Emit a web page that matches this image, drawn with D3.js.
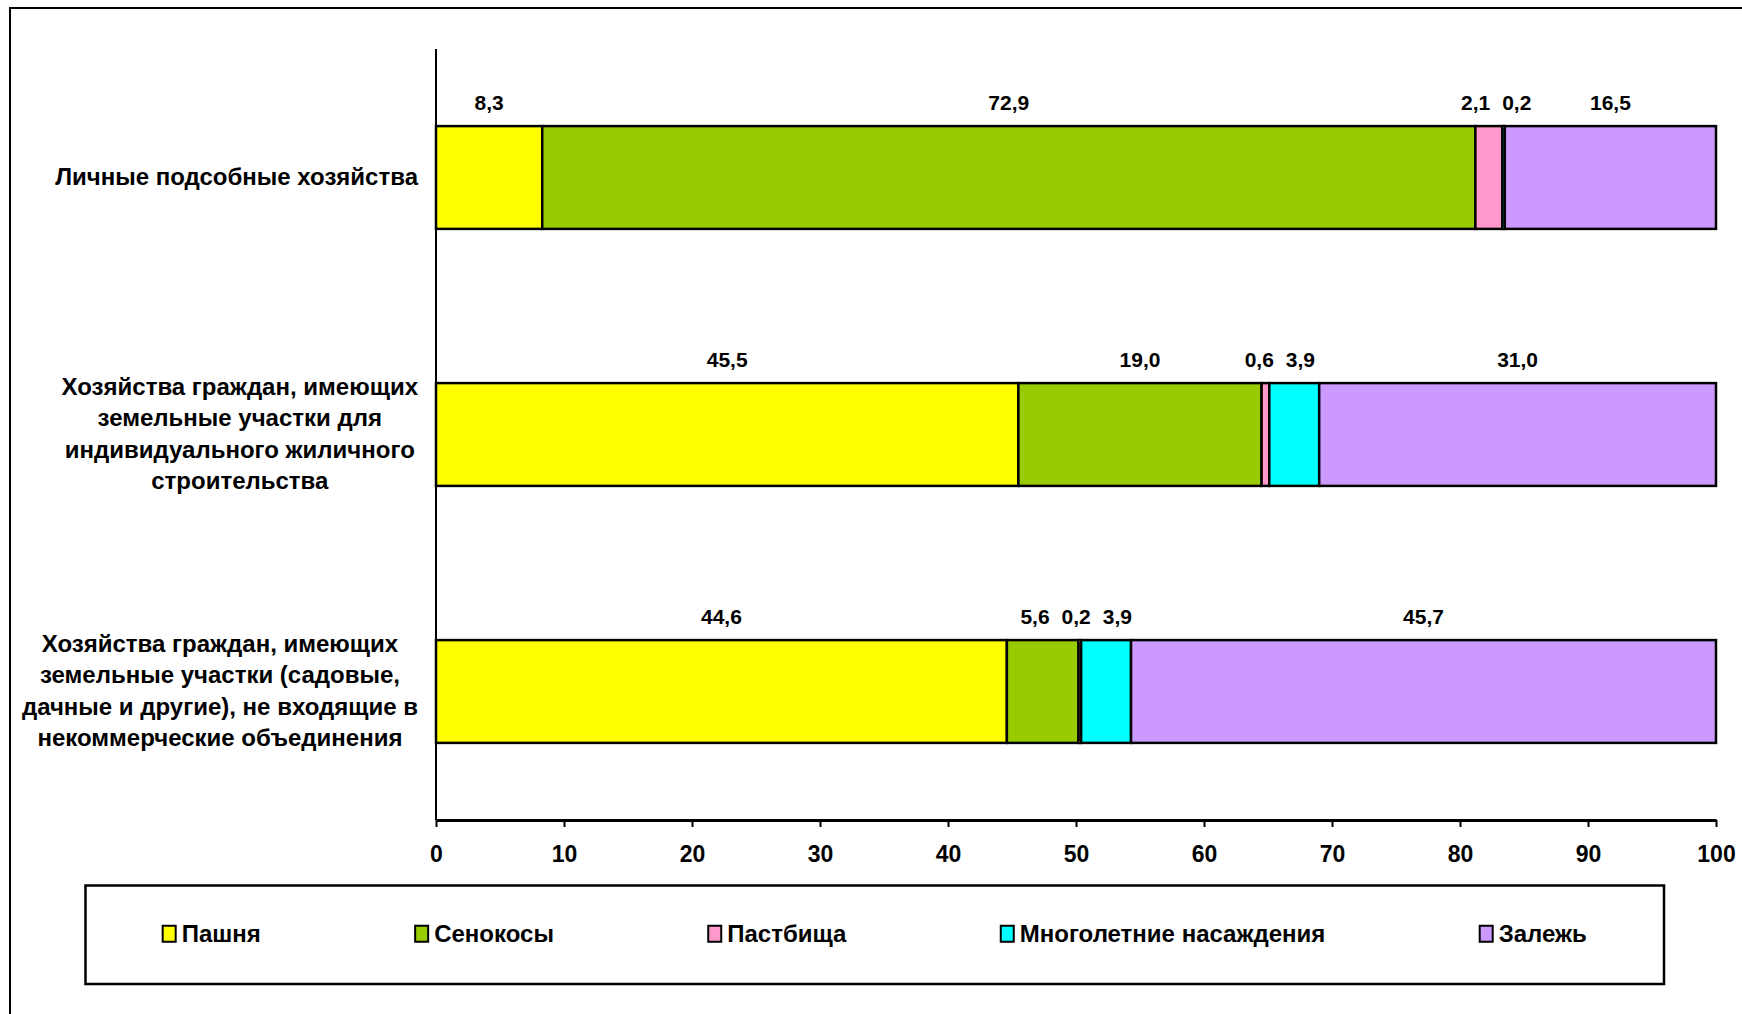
<!DOCTYPE html>
<html>
<head>
<meta charset="utf-8">
<script src="https://cdn.jsdelivr.net/npm/d3@7"></script>
<style>
  html, body { margin: 0; padding: 0; background: #fff; }
  svg { display: block; font-family: Arial, "Liberation Sans", sans-serif; font-weight: bold; }
</style>
</head>
<body>
<svg id="chart" width="1742" height="1014"></svg>
<script>
// ---- data ----
const categories = [
  "Личные подсобные хозяйства",
  "Хозяйства граждан, имеющих\nземельные участки для\nиндивидуального жиличного\nстроительства",
  "Хозяйства граждан, имеющих\nземельные участки (садовые,\nдачные и другие), не входящие в\nнекоммерческие объединения"
];
const seriesNames = ["Пашня", "Сенокосы", "Пастбища", "Многолетние насаждения", "Залежь"];
const pashnya     = [8.3, 45.5, 44.6];
const senokosy    = [72.9, 19.0, 5.6];
const pastbishcha = [2.1, 0.6, 0.2];
const mnogoletnie = [0.2, 3.9, 3.9];
const zalezh      = [16.5, 31.0, 45.7];
const xTicks = [0, 10, 20, 30, 40, 50, 60, 70, 80, 90, 100];
const seriesColors = ["#FFFF00", "#99CC00", "#FF99CC", "#00FFFF", "#CC99FF"];

const seriesValues = [pashnya, senokosy, pastbishcha, mnogoletnie, zalezh];
const fmt = v => v.toFixed(1).replace(".", ",");

const svg = d3.select("#chart");

// outer frame (extends beyond the visible area on right/bottom)
svg.append("rect").attr("x", 10).attr("y", 8).attr("width", 1900).attr("height", 1200)
  .attr("fill", "none").attr("stroke", "#000").attr("stroke-width", 2);

const x = d3.scaleLinear().domain([0, 100]).range([436, 1716]);
const y = d3.scaleBand().domain(categories).range([49, 820]).paddingInner(0.6).paddingOuter(0.3);

// stacked data
const rows = categories.map((c, i) => {
  const r = { cat: c };
  seriesNames.forEach((s, j) => r[s] = seriesValues[j][i]);
  return r;
});
const stack = d3.stack().keys(seriesNames)(rows);

// bars
const layers = svg.append("g").selectAll("g").data(stack).join("g")
  .attr("fill", (d, i) => seriesColors[i]);
layers.selectAll("rect").data(d => d).join("rect")
  .attr("x", d => x(d[0]))
  .attr("y", d => y(d.data.cat))
  .attr("width", d => x(d[1]) - x(d[0]))
  .attr("height", y.bandwidth())
  .attr("stroke", "#000").attr("stroke-width", 2.5);

// value labels with simple collision nudging
const labelFont = 21;
const lblG = svg.append("g").attr("font-size", labelFont).attr("text-anchor", "middle");
categories.forEach((c, i) => {
  const items = stack.map((layer, j) => ({
    v: seriesValues[j][i],
    cx: x((layer[i][0] + layer[i][1]) / 2)
  })).filter(d => d.v > 0);
  items.forEach(d => {
    d.node = lblG.append("text").attr("y", y(c) - 16).text(fmt(d.v));
    d.w = d.node.node().getComputedTextLength();
  });
  for (let iter = 0; iter < 50; iter++) {
    let moved = false;
    for (let k = 0; k < items.length - 1; k++) {
      const a = items[k], b = items[k + 1];
      const need = (a.w + b.w) / 2 + 12;
      const gap = b.cx - a.cx;
      if (gap < need) {
        const push = (need - gap) / 2;
        a.cx -= push; b.cx += push; moved = true;
      }
    }
    if (!moved) break;
  }
  items.forEach(d => d.node.attr("x", d.cx));
});

// y axis line
svg.append("line").attr("x1", x(0)).attr("x2", x(0)).attr("y1", 49).attr("y2", 820)
  .attr("stroke", "#000").attr("stroke-width", 2);

// x axis
const xAxis = svg.append("g").attr("transform", "translate(0,820)")
  .call(d3.axisBottom(x).tickValues(xTicks).tickSize(7).tickSizeOuter(0).tickPadding(19).tickFormat(d3.format("d")));
xAxis.select(".domain").attr("stroke", "#000").attr("stroke-width", 3);
xAxis.selectAll(".tick line").attr("stroke", "#000").attr("stroke-width", 2);
xAxis.selectAll(".tick text").attr("font-size", 23).attr("font-weight", "bold")
  .attr("font-family", "Arial, 'Liberation Sans', sans-serif").attr("fill", "#000");

// category labels (block right-aligned to 418, lines centered)
const catFont = 24, lineH = 31.5;
const catG = svg.append("g").attr("font-size", catFont).attr("text-anchor", "middle");
categories.forEach(c => {
  const lines = c.split("\n");
  const g = catG.append("g");
  const cy = y(c) + y.bandwidth() / 2 - 1;
  const n = lines.length;
  const ts = lines.map((ln, k) => g.append("text")
    .attr("y", cy + (k - (n - 1) / 2) * lineH + catFont * 0.35).text(ln));
  const maxW = d3.max(ts, t => t.node().getComputedTextLength());
  ts.forEach(t => t.attr("x", 418 - maxW / 2));
});

// legend
const lgX = 85.5, lgY = 885.5, lgW = 1578.5, lgH = 98.5;
svg.append("rect").attr("x", lgX).attr("y", lgY).attr("width", lgW).attr("height", lgH)
  .attr("fill", "#fff").attr("stroke", "#000").attr("stroke-width", 2.5);
const legFont = 24, sw = 13, swH = 16, swGap = 6;
const lg = svg.append("g").attr("font-size", legFont);
const legItems = seriesNames.map((s, i) => {
  const g = lg.append("g");
  g.append("rect").attr("width", sw).attr("height", swH).attr("y", -swH / 2)
    .attr("fill", seriesColors[i]).attr("stroke", "#000").attr("stroke-width", 2);
  const t = g.append("text").attr("x", sw + swGap).attr("y", legFont * 0.35).text(s);
  return { g, w: sw + swGap + t.node().getComputedTextLength() };
});
const totalW = d3.sum(legItems, d => d.w);
const gapL = (lgW - totalW) / legItems.length;
let cx = lgX + gapL / 2;
const lcy = lgY + lgH / 2 - 1;
legItems.forEach(d => { d.g.attr("transform", `translate(${cx},${lcy})`); cx += d.w + gapL; });
</script>
</body>
</html>
